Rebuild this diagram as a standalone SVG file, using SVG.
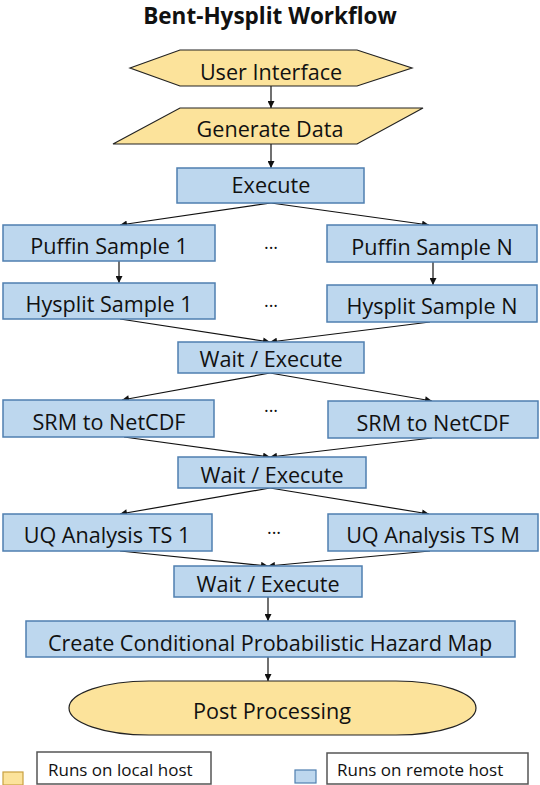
<svg xmlns="http://www.w3.org/2000/svg" width="540" height="785" viewBox="0 0 540 785">
<defs>
<style>
.t{font-family:"Open Sans","Noto Sans","Liberation Sans",sans-serif;font-size:21.6px;fill:#111;text-anchor:middle}
.title{font-family:"Open Sans","Noto Sans","Liberation Sans",sans-serif;font-size:22.5px;font-weight:bold;fill:#111;text-anchor:middle}
.lg{font-family:"Open Sans","Noto Sans","Liberation Sans",sans-serif;font-size:17px;fill:#111}
.dots{font-family:"Open Sans","Noto Sans","Liberation Sans",sans-serif;font-size:18px;fill:#111;text-anchor:middle}
.y{fill:#FCE39B;stroke:#222;stroke-width:1.2}
.b{fill:#BDD7EE;stroke:#4F7FB0;stroke-width:1.5}
.c{stroke:#111;stroke-width:1.2;fill:none;marker-end:url(#ah)}
.lb{fill:#fff;stroke:#555;stroke-width:1.5}
</style>
<marker id="ah" viewBox="0 0 10 10" refX="10" refY="5" markerUnits="userSpaceOnUse" markerWidth="8" markerHeight="7" orient="auto">
<path d="M0,0 L10,5 L0,10 z" fill="#111"/>
</marker>
</defs>
<rect width="540" height="785" fill="#fff"/>
<text class="title" x="270" y="24">Bent-Hysplit Workflow</text>

<g id="connectors">
<line class="c" x1="271" y1="86" x2="271" y2="108"/>
<line class="c" x1="271" y1="144" x2="271" y2="168"/>
<line class="c" x1="271" y1="203" x2="120" y2="225"/>
<line class="c" x1="271" y1="203" x2="429" y2="225"/>
<line class="c" x1="119" y1="261" x2="119" y2="283"/>
<line class="c" x1="433" y1="262" x2="433" y2="285"/>
<line class="c" x1="120" y1="319" x2="270" y2="342"/>
<line class="c" x1="430" y1="322" x2="270" y2="342"/>
<line class="c" x1="270" y1="373" x2="122" y2="400"/>
<line class="c" x1="270" y1="373" x2="432" y2="401"/>
<line class="c" x1="124" y1="437" x2="270" y2="457"/>
<line class="c" x1="432" y1="438" x2="270" y2="457"/>
<line class="c" x1="270" y1="488" x2="120" y2="514"/>
<line class="c" x1="270" y1="488" x2="429" y2="514"/>
<line class="c" x1="120" y1="551" x2="268" y2="566"/>
<line class="c" x1="430" y1="551" x2="268" y2="566"/>
<line class="c" x1="268" y1="597" x2="268" y2="621"/>
<line class="c" x1="268" y1="657" x2="268" y2="681"/>
</g>

<g id="user-interface">
<polygon class="y" points="130,68 180,50 357,50 412,68 357,86 180,86"/>
<text class="t" x="271" y="80">User Interface</text>
</g>
<g id="generate-data">
<polygon class="y" points="180,108 423,108 357,144 113,144"/>
<text class="t" x="270" y="137">Generate Data</text>
</g>
<g id="execute">
<rect class="b" x="177" y="168" width="187" height="35"/>
<text class="t" x="271" y="193">Execute</text>
</g>
<g id="puffin-1">
<rect class="b" x="3" y="225" width="212" height="36"/>
<text class="t" x="109" y="254">Puffin Sample 1</text>
</g>
<g id="puffin-n">
<rect class="b" x="327" y="225" width="210" height="37"/>
<text class="t" x="432" y="255">Puffin Sample N</text>
</g>
<text class="dots" x="271" y="249">...</text>
<g id="hysplit-1">
<rect class="b" x="3" y="283" width="212" height="36"/>
<text class="t" x="109" y="312">Hysplit Sample 1</text>
</g>
<g id="hysplit-n">
<rect class="b" x="327" y="285" width="210" height="37"/>
<text class="t" x="432" y="314">Hysplit Sample N</text>
</g>
<text class="dots" x="271" y="307">...</text>
<g id="wait-1">
<rect class="b" x="178" y="342" width="186" height="31"/>
<text class="t" x="271" y="367">Wait / Execute</text>
</g>
<g id="srm-1">
<rect class="b" x="3" y="400" width="211" height="37"/>
<text class="t" x="109" y="430">SRM to NetCDF</text>
</g>
<g id="srm-n">
<rect class="b" x="328" y="401" width="210" height="37"/>
<text class="t" x="433" y="431">SRM to NetCDF</text>
</g>
<text class="dots" x="271" y="412">...</text>
<g id="wait-2">
<rect class="b" x="178" y="457" width="188" height="31"/>
<text class="t" x="272" y="483">Wait / Execute</text>
</g>
<g id="uq-1">
<rect class="b" x="3" y="514" width="209" height="37"/>
<text class="t" x="107" y="543">UQ Analysis TS 1</text>
</g>
<g id="uq-m">
<rect class="b" x="328" y="514" width="210" height="37"/>
<text class="t" x="433" y="543">UQ Analysis TS M</text>
</g>
<text class="dots" x="274" y="534">...</text>
<g id="wait-3">
<rect class="b" x="174" y="566" width="188" height="31"/>
<text class="t" x="268" y="592">Wait / Execute</text>
</g>
<g id="hazard-map">
<rect class="b" x="26" y="621" width="489" height="36"/>
<text class="t" x="270" y="651">Create Conditional Probabilistic Hazard Map</text>
</g>
<g id="post-processing">
<rect class="y" x="69" y="681" width="407" height="54" rx="80" ry="27"/>
<text class="t" x="272" y="719">Post Processing</text>
</g>
<g id="legend-local">
<rect x="3" y="772" width="20" height="13" fill="#FCE39B" stroke="#C9A040" stroke-width="1.2"/>
<rect class="lb" x="37" y="752" width="174" height="32"/>
<text class="lg" x="48" y="776">Runs on local host</text>
</g>
<g id="legend-remote">
<rect x="295" y="770" width="21" height="13" fill="#BDD7EE" stroke="#4F7FB0" stroke-width="1.2"/>
<rect class="lb" x="327" y="753" width="201" height="31"/>
<text class="lg" x="337" y="776">Runs on remote host</text>
</g>
</svg>
